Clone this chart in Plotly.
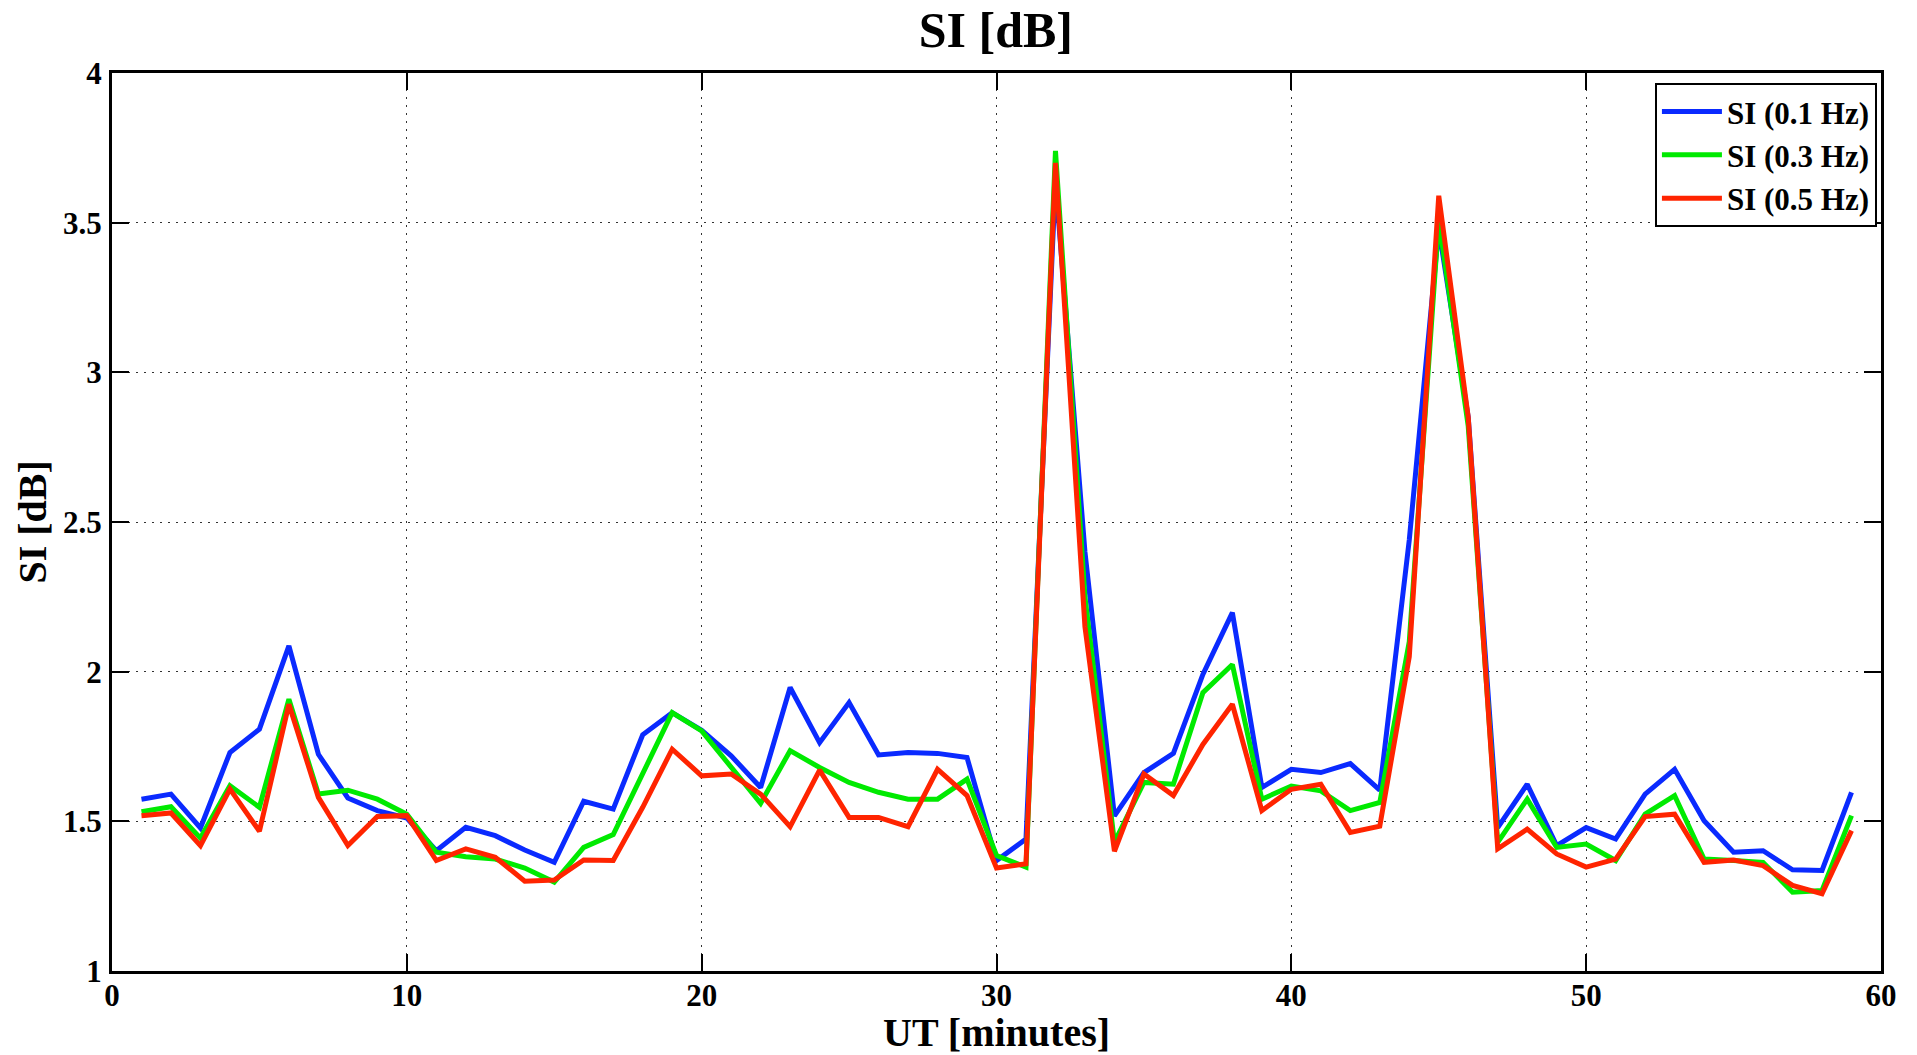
import plotly.graph_objects as go

# UT minute index for each sample
minutes = list(range(1, 60))

# Scintillation index series (dB) per filter cut-off
si_01hz = [1.574, 1.591, 1.478, 1.730, 1.808, 2.086, 1.724, 1.578, 1.536, 1.511,
           1.402, 1.480, 1.452, 1.404, 1.363, 1.567, 1.541, 1.789, 1.863, 1.804,
           1.719, 1.613, 1.947, 1.763, 1.897, 1.722, 1.730, 1.727, 1.713, 1.369,
           1.441, 3.640, 2.400, 1.518, 1.663, 1.727, 1.991, 2.197, 1.613, 1.674,
           1.663, 1.693, 1.604, 2.440, 3.480, 2.850, 1.479, 1.624, 1.419, 1.479,
           1.441, 1.591, 1.674, 1.502, 1.397, 1.402, 1.338, 1.336, 1.597]

si_03hz = [1.532, 1.549, 1.444, 1.619, 1.547, 1.908, 1.591, 1.604, 1.574, 1.524,
           1.397, 1.382, 1.374, 1.344, 1.297, 1.413, 1.456, 1.658, 1.863, 1.802,
           1.680, 1.560, 1.736, 1.680, 1.630, 1.597, 1.574, 1.574, 1.641, 1.386,
           1.347, 3.740, 2.250, 1.430, 1.630, 1.624, 1.930, 2.024, 1.574, 1.618,
           1.602, 1.536, 1.563, 2.100, 3.510, 2.820, 1.430, 1.574, 1.413, 1.424,
           1.369, 1.524, 1.586, 1.374, 1.369, 1.363, 1.263, 1.269, 1.519]

si_05hz = [1.519, 1.528, 1.419, 1.608, 1.467, 1.891, 1.580, 1.419, 1.516, 1.519,
           1.369, 1.408, 1.380, 1.300, 1.304, 1.371, 1.369, 1.547, 1.741, 1.652,
           1.658, 1.591, 1.482, 1.671, 1.513, 1.513, 1.482, 1.674, 1.586, 1.344,
           1.358, 3.700, 2.150, 1.400, 1.658, 1.586, 1.757, 1.891, 1.536, 1.607,
           1.624, 1.463, 1.484, 2.050, 3.590, 2.850, 1.408, 1.474, 1.391, 1.347,
           1.374, 1.516, 1.524, 1.363, 1.371, 1.352, 1.286, 1.258, 1.469]

series_names = ["SI (0.1 Hz)", "SI (0.3 Hz)", "SI (0.5 Hz)"]
series_colors = ["#0a2aff", "#00ea00", "#ff2400"]

x_ticks = [0, 10, 20, 30, 40, 50, 60]
y_ticks = [1, 1.5, 2, 2.5, 3, 3.5, 4]
y_tick_text = ["1", "1.5", "2", "2.5", "3", "3.5", "4"]

FONT = "Liberation Serif, Times New Roman, serif"

fig = go.Figure()
for name, vals, col in zip(series_names, [si_01hz, si_03hz, si_05hz], series_colors):
    fig.add_trace(go.Scatter(
        x=minutes, y=vals, mode="lines", name=name,
        line=dict(color=col, width=5, shape="linear"),
    ))

axis_common = dict(
    showline=True, linecolor="black", linewidth=3, mirror="ticks",
    ticks="inside", ticklen=17, tickwidth=2, tickcolor="black",
    showgrid=True, gridcolor="#333333", gridwidth=1, griddash="2px,6px",
    zeroline=False,
    tickfont=dict(family=FONT, size=31, color="black", weight="bold"),
)

fig.update_xaxes(range=[0, 60], tickvals=x_ticks, ticklabelstandoff=-5, **axis_common)
fig.update_yaxes(range=[1, 4], tickvals=y_ticks, ticktext=y_tick_text,
                 ticklabelstandoff=1, **axis_common)

fig.update_layout(
    width=1917, height=1055,
    margin=dict(l=112, r=36, t=73, b=84),
    paper_bgcolor="white", plot_bgcolor="white",
    title=dict(text="SI [dB]", x=0.5195, xanchor="center", y=1 - 29 / 1055,
               yanchor="middle",
               font=dict(family=FONT, size=50, color="black", weight="bold")),
    showlegend=True,
    legend=dict(
        x=0.9977, xanchor="right", y=0.989, yanchor="top",
        bgcolor="white", bordercolor="black", borderwidth=2,
        font=dict(family=FONT, size=31, color="black", weight="bold"),
        itemwidth=60, tracegroupgap=0,
    ),
    annotations=[
        dict(text="UT [minutes]", xref="paper", yref="paper", x=0.5, y=-0.069,
             xanchor="center", yanchor="middle", showarrow=False,
             font=dict(family=FONT, size=40, color="black", weight="bold")),
        dict(text="SI [dB]", xref="paper", yref="paper", x=-0.0455, y=0.5,
             xanchor="center", yanchor="middle", textangle=-90, showarrow=False,
             font=dict(family=FONT, size=40, color="black", weight="bold")),
    ],
)

fig.write_html("out.html")
